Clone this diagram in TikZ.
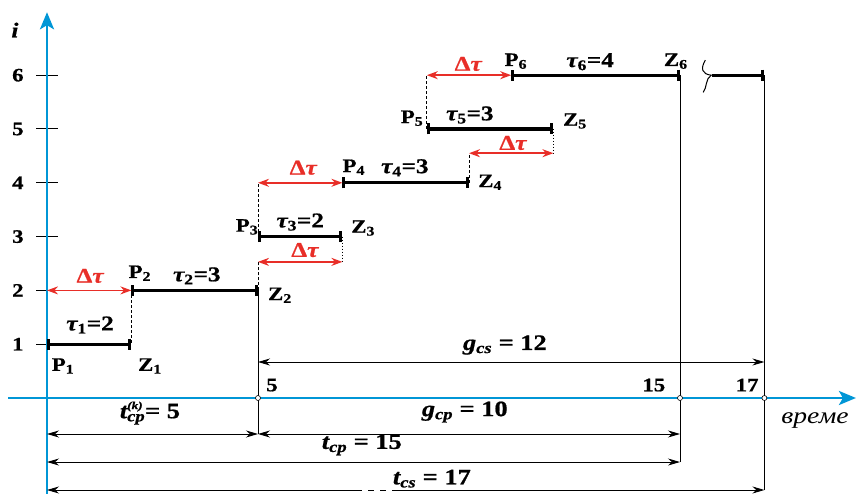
\documentclass[tikz,border=0pt]{standalone}
\usepackage{fontspec}
\setmainfont{Liberation Serif}[FakeStretch=1.2, BoldFeatures={FakeBold=0.8}, BoldItalicFeatures={FakeBold=0.8}]
\usetikzlibrary{arrows.meta}
\definecolor{axblue}{RGB}{0,150,214}
\definecolor{dtred}{RGB}{232,46,40}
\newcommand{\ix}[1]{\textsubscript{#1}}

\begin{document}
\begin{tikzpicture}[
	x=42.2pt, y=53.8pt,
	ax/.style = {draw=axblue, line width=2.8pt, -{Stealth[length=17pt, width=14pt, inset=4pt]}},
	bar/.style = {line width=3.2pt, {Bar[width=11pt, line width=3pt]}-{Bar[width=11pt, line width=3pt]}},
	dt/.style = {draw=dtred, line width=1.6pt, {Stealth[length=11pt, width=8pt]}-{Stealth[length=11pt, width=8pt]}},
	dim/.style = {line width=0.9pt, {Stealth[length=12pt, width=7pt]}-{Stealth[length=12pt, width=7pt]}},
	ext/.style = {line width=1pt},
	dsh/.style = {line width=1pt, dash pattern=on 3pt off 2pt},
	dts/.style = {line width=1pt, dash pattern=on 1.5pt off 1.5pt},
	knot/.style = {circle, draw, fill=white, line width=0.6pt, inner sep=0pt, minimum size=5pt},
	tck/.style = {font=\fontsize{19}{19}\selectfont\bfseries},
	lab/.style = {font=\fontsize{19}{19}\selectfont\bfseries, inner sep=0pt},
	tau/.style = {font=\fontsize{21}{21}\selectfont\bfseries, inner sep=0pt},
	dl/.style = {font=\fontsize{21}{21}\selectfont\bfseries, text=dtred, inner sep=0pt},
	big/.style = {font=\fontsize{22}{22}\selectfont\bfseries, inner sep=0pt}
	]
	\useasboundingbox (-47pt,-96pt) rectangle (809pt,398pt);

	%Points
	\coordinate (p1) at (0,1);		\coordinate (z1) at (2,1);
	\coordinate (p2) at (2,2);		\coordinate (z2) at (5,2);
	\coordinate (p3) at (5,3);		\coordinate (z3) at (7,3);
	\coordinate (p4) at (7,4);		\coordinate (z4) at (10,4);
	\coordinate (p5) at (9,5);		\coordinate (z5) at (12,5);
	\coordinate (p6) at (11,6);		\coordinate (z6) at (15,6);
	\coordinate (b1) at (15.76,6);	\coordinate (b2) at (17,6);
	\coordinate (d1) at (0,2);
	\coordinate (d2a) at (5,2.53);	\coordinate (d2b) at (7,2.53);
	\coordinate (d3) at (5,4);
	\coordinate (d4a) at (10,4.55);	\coordinate (d4b) at (12,4.55);
	\coordinate (d5) at (9,6);
	\coordinate (gs1) at (5,0.669);	\coordinate (gs2) at (17,0.669);
	\coordinate (t0) at (0,-0.669);	\coordinate (e5) at (5,-0.669);
	\coordinate (g15) at (15,-0.669);
	\coordinate (c0) at (0,-1.19);	\coordinate (e15) at (15,-1.19);
	\coordinate (s0) at (0,-1.71);	\coordinate (e17) at (17,-1.71);
	\coordinate (sg1) at (7.417,-1.71);	\coordinate (sg2) at (8.294,-1.71);

	%Axes
	\foreach \k in {1,...,6}{
		\draw[ext] (-0.26,\k) -- (0.26,\k);
		\node[tck] (n\k) at (-0.69,\k) {\k};
	}
	\draw[ax] (-0.92,0) coordinate (xs) -- (19.17,0) coordinate (xe);
	\draw[ax] (0,-1.79) coordinate (ys) -- (0,7.17) coordinate (ye);
	\node[font=\fontsize{21}{21}\selectfont\bfseries\itshape] (ii) at (-0.76,6.84) {i};
	\node[font=\fontsize{23}{23}\selectfont\itshape] (vr) at (18.2,-0.41) {време};

	%Lines
	\draw[ext] (z2) -- (e5);
	\draw[ext] (z6) -- (e15);
	\draw[ext] (b2) -- (e17);
	\draw[dsh] (p2) -- (z1);
	\draw[dsh] (z2) -- (d2a);
	\draw[dsh] (p3) -- (d3);
	\draw[dts] (z3) -- (d2b);
	\draw[dsh] (z4) -- (d4a);
	\draw[dts] (z5) -- (d4b);
	\draw[dsh] (p5) -- (d5);
	\draw[bar] (p1) -- (z1);
	\draw[bar] (p2) -- (z2);
	\draw[bar] (p3) -- (z3);
	\draw[bar] (p4) -- (z4);
	\draw[bar] (p5) -- (z5);
	\draw[bar] (p6) -- (z6);
	\draw[line width=3.2pt, -{Bar[width=11pt, line width=3pt]}] (b1) -- (b2);
	\draw[line width=1pt] (15.6,6.28) .. controls (15.48,6.12) and (15.52,6.02) .. (15.74,6)
		.. controls (15.6,5.94) and (15.64,5.76) .. (15.55,5.68);
	\draw[dt] (d1) -- (p2);
	\draw[dt] (d2a) -- (d2b);
	\draw[dt] (d3) -- (p4);
	\draw[dt] (d4a) -- (d4b);
	\draw[dt] (d5) -- (p6);
	\draw[dim] (gs1) -- (gs2);
	\draw[dim] (t0) -- (e5);
	\draw[dim] (e5) -- (g15);
	\draw[dim] (c0) -- (e15);
	\draw[line width=0.9pt, dash pattern=on 6pt off 6pt, dash phase=-8pt] (sg1) -- (sg2);
	\draw[dim, {Stealth[length=12pt, width=7pt]}-] (s0) -- (sg1);
	\draw[dim, -{Stealth[length=12pt, width=7pt]}] (sg2) -- (e17);
	\node[knot] (k5) at (5,0) {};
	\node[knot] (k15) at (15,0) {};
	\node[knot] (k17) at (17,0) {};

	%Labels
	\node[lab] (lp1) at (0.38,0.595) {P\ix{1}};
	\node[lab] (lz1) at (2.44,0.595) {Z\ix{1}};
	\node[tau] (lt1) at (1.02,1.357) {{\itshape τ}\ix{1}=2};
	\node[dl] (ld1) at (1.02,2.27) {Δ{\itshape τ}};
	\node[lab] (lp2) at (2.2,2.32) {P\ix{2}};
	\node[tau] (lt2) at (3.55,2.27) {{\itshape τ}\ix{2}=3};
	\node[lab] (lz2) at (5.52,1.91) {Z\ix{2}};
	\node[dl] (ld2) at (6.11,2.75) {Δ{\itshape τ}};
	\node[lab] (lp3) at (4.74,3.18) {P\ix{3}};
	\node[tau] (lt3) at (6,3.27) {{\itshape τ}\ix{3}=2};
	\node[lab] (lz3) at (7.49,3.16) {Z\ix{3}};
	\node[dl] (ld3) at (6.07,4.28) {Δ{\itshape τ}};
	\node[lab] (lp4) at (7.27,4.29) {P\ix{4}};
	\node[tau] (lt4) at (8.48,4.28) {{\itshape τ}\ix{4}=3};
	\node[lab] (lz4) at (10.5,4.01) {Z\ix{4}};
	\node[dl] (ld4) at (11.04,4.74) {Δ{\itshape τ}};
	\node[lab] (lp5) at (8.65,5.2) {P\ix{5}};
	\node[tau] (lt5) at (10.02,5.26) {{\itshape τ}\ix{5}=3};
	\node[lab] (lz5) at (12.51,5.15) {Z\ix{5}};
	\node[dl] (ld5) at (9.98,6.21) {Δ{\itshape τ}};
	\node[lab] (lp6) at (11.11,6.26) {P\ix{6}};
	\node[tau] (lt6) at (12.87,6.25) {{\itshape τ}\ix{6}=4};
	\node[lab] (lz6) at (14.9,6.26) {Z\ix{6}};
	\node[tck] (l5) at (5.33,0.24) {5};
	\node[tck] (l15) at (14.38,0.24) {15};
	\node[tck] (l17) at (16.59,0.24) {17};
	\node[big] (lgs) at (10.85,0.985) {{\itshape g\ix{cs}} = 12};
	\node[big] (ltk) at (2.44,-0.28) {{\itshape t\rlap{\raisebox{9pt}{\fontsize{11}{11}\selectfont(k)}}\ix{cp}}= 5};
	\node[big] (lgp) at (9.9,-0.26) {{\itshape g\ix{cp}} = 10};
	\node[big] (ltp) at (7.46,-0.87) {{\itshape t\ix{cp}} = 15};
	\node[big] (lts) at (9.12,-1.5) {{\itshape t\ix{cs}} = 17};
\end{tikzpicture}
\end{document}
